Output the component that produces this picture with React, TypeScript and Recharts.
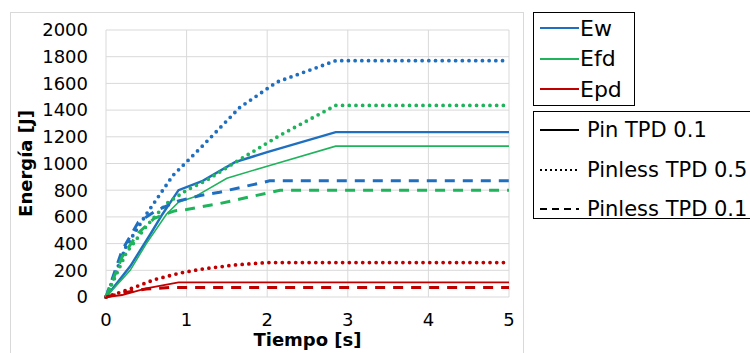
import React from "react";
import { LineChart, Line, XAxis, YAxis, CartesianGrid, Legend, Label } from "recharts";

// tiempo [s] y energía [J]
const ewPinT = [0, 0.3, 0.55, 0.7, 0.9, 1.2, 1.6, 2.0, 2.85, 5];
const ewPinV = [0, 230, 470, 620, 800, 870, 1010, 1085, 1235, 1235];
const efdPinT = [0, 0.3, 0.5, 0.75, 0.9, 1.1, 1.5, 2.0, 2.85, 5];
const efdPinV = [0, 200, 400, 620, 710, 750, 890, 980, 1130, 1130];
const epdPinT = [0, 0.2, 0.5, 0.9, 5];
const epdPinV = [0, 15, 65, 110, 110];

const ewPl05T = [0, 0.25, 0.5, 0.83, 1.17, 1.66, 2.12, 2.85, 5];
const ewPl05V = [0, 380, 620, 910, 1115, 1420, 1610, 1770, 1770];
const efdPl05T = [0, 0.25, 0.5, 0.75, 1.0, 1.25, 1.58, 2.16, 2.85, 5];
const efdPl05V = [0, 330, 530, 700, 800, 875, 1000, 1212, 1435, 1435];
const epdPl05T = [0, 0.3, 0.6, 0.92, 1.2, 1.6, 2.0, 5];
const epdPl05V = [0, 60, 130, 180, 210, 240, 258, 258];

const ewPl01T = [0, 0.2, 0.4, 0.63, 0.9, 1.17, 1.41, 2.03, 5];
const ewPl01V = [0, 350, 560, 650, 720, 760, 785, 870, 870];
const efdPl01T = [0, 0.2, 0.4, 0.6, 0.85, 1.0, 1.17, 1.41, 2.16, 5];
const efdPl01V = [0, 300, 480, 590, 645, 655, 675, 700, 800, 800];
const epdPl01T = [0, 0.2, 0.5, 0.8, 5];
const epdPl01V = [0, 30, 60, 72, 72];

const xTicks = [0, 1, 2, 3, 4, 5];
const yTicks = [0, 200, 400, 600, 800, 1000, 1200, 1400, 1600, 1800, 2000];

const energias = ["Ew", "Efd", "Epd"];
const casos = ["Pin TPD 0.1", "Pinless TPD 0.5", "Pinless TPD 0.1"];

const BLUE = "#1f6fc0";
const GREEN = "#1fb35c";
const RED = "#c00000";
const FONT = "'DejaVu Sans', sans-serif";

const toData = (t: number[], v: number[]) => t.map((x, i) => ({ t: x, v: v[i] }));

const DOT = { strokeDasharray: "0 6.7", strokeLinecap: "round" as const, strokeWidth: 3.8 };
const DASH = { strokeDasharray: "10 8", strokeWidth: 3 };

const series = [
  { key: "ewPin", data: toData(ewPinT, ewPinV), color: BLUE, style: { strokeWidth: 2.4 } },
  { key: "efdPin", data: toData(efdPinT, efdPinV), color: GREEN, style: { strokeWidth: 1.6 } },
  { key: "epdPin", data: toData(epdPinT, epdPinV), color: RED, style: { strokeWidth: 1.8 } },
  { key: "ewPl05", data: toData(ewPl05T, ewPl05V), color: BLUE, style: DOT },
  { key: "efdPl05", data: toData(efdPl05T, efdPl05V), color: GREEN, style: DOT },
  { key: "epdPl05", data: toData(epdPl05T, epdPl05V), color: RED, style: DOT },
  { key: "ewPl01", data: toData(ewPl01T, ewPl01V), color: BLUE, style: DASH },
  { key: "efdPl01", data: toData(efdPl01T, efdPl01V), color: GREEN, style: DASH },
  { key: "epdPl01", data: toData(epdPl01T, epdPl01V), color: RED, style: DASH },
];

const LegendBoxes = () => {
  const colors = [BLUE, GREEN, RED];
  const dashes = [undefined, "2 3", "7 5"];
  return (
    <div style={{ position: "relative", width: 750, height: 353, fontFamily: FONT }}>
      <div style={{ position: "absolute", left: 533, top: 12, width: 100, height: 92, border: "1.5px solid #000" }} />
      {energias.map((n, i) => (
        <div key={n} style={{ position: "absolute", left: 540, top: 28 + i * 30.5 - 15, height: 30, display: "flex", alignItems: "center" }}>
          <svg width={39} height={4}><line x1={0} y1={2} x2={39} y2={2} stroke={colors[i]} strokeWidth={2} /></svg>
          <span style={{ fontSize: 22, marginLeft: 1, color: "#000" }}>{n}</span>
        </div>
      ))}
      <div style={{ position: "absolute", left: 533, top: 111, width: 230, height: 106, border: "1.5px solid #000" }} />
      {casos.map((n, i) => (
        <div key={n} style={{ position: "absolute", left: 540, top: 130 + i * 39.5 - 15, height: 30, display: "flex", alignItems: "center", whiteSpace: "nowrap" }}>
          <svg width={39} height={4}><line x1={0} y1={2} x2={39} y2={2} stroke="#000" strokeWidth={2} strokeDasharray={dashes[i]} /></svg>
          <span style={{ fontSize: 21, marginLeft: 8, color: "#000" }}>{n}</span>
        </div>
      ))}
    </div>
  );
};

export default function App() {
  return (
    <div style={{ position: "absolute", left: 0, top: 0, width: 750, height: 353, background: "#fff", overflow: "hidden" }}>
      <div style={{ position: "absolute", left: 10, top: 12, width: 512, height: 360, border: "1px solid #d9d9d9" }} />
      <LineChart width={750} height={353} margin={{ top: 30, right: 241, bottom: 6, left: 26 }}>
        <CartesianGrid stroke="#d9d9d9" />
        <XAxis
          dataKey="t"
          type="number"
          domain={[0, 5]}
          ticks={xTicks}
          axisLine={false}
          tickLine={false}
          tickSize={0}
          tickMargin={16}
          height={50}
          tick={{ fill: "#000", fontSize: 18, fontFamily: FONT }}
        >
          <Label
            content={({ viewBox }: any) => (
              <text x={viewBox.x + viewBox.width / 2} y={346} textAnchor="middle" fontFamily={FONT} fontWeight="bold" fontSize={18} fill="#000">
                Tiempo [s]
              </text>
            )}
          />
        </XAxis>
        <YAxis
          type="number"
          domain={[0, 2000]}
          ticks={yTicks}
          axisLine={false}
          tickLine={false}
          tickSize={0}
          tickMargin={18}
          width={80}
          tick={{ fill: "#000", fontSize: 18, fontFamily: FONT }}
        >
          <Label
            content={({ viewBox }: any) => (
              <text x={32} y={viewBox.y + viewBox.height / 2} transform={`rotate(-90 32 ${viewBox.y + viewBox.height / 2})`} textAnchor="middle" fontFamily={FONT} fontWeight="bold" fontSize={18} fill="#000">
                Energía [J]
              </text>
            )}
          />
        </YAxis>
        {series.map((s) => (
          <Line
            key={s.key}
            data={s.data}
            dataKey="v"
            type="linear"
            stroke={s.color}
            dot={false}
            activeDot={false}
            isAnimationActive={false}
            {...s.style}
          />
        ))}
        <Legend
          layout="horizontal"
          verticalAlign="middle"
          align="center"
          wrapperStyle={{ left: 0, top: 0, width: 750, height: 353, pointerEvents: "none" }}
          content={() => <LegendBoxes />}
        />
      </LineChart>
    </div>
  );
}
